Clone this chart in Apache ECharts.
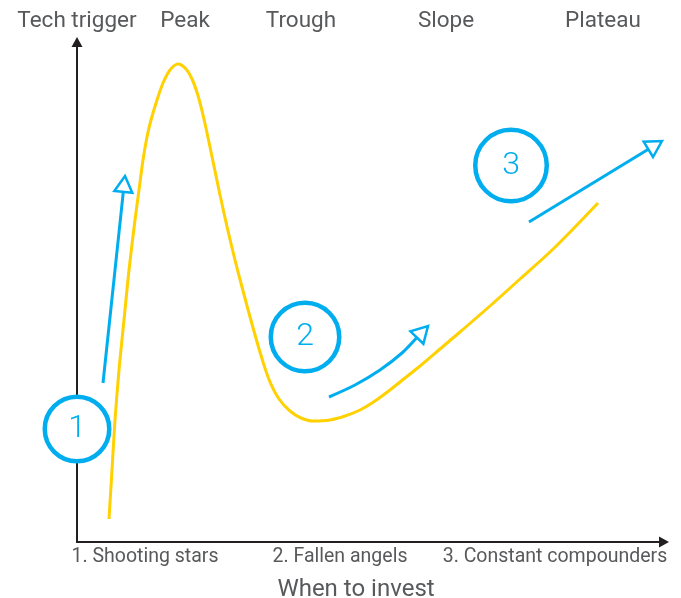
<!DOCTYPE html>
<html>
<head>
<meta charset="utf-8">
<script src="https://cdn.jsdelivr.net/npm/echarts@6/dist/echarts.min.js"></script>
<style>
html,body{margin:0;padding:0;background:#fff;}
#chart{width:681px;height:598px;}
</style>
</head>
<body>
<div id="chart"></div>
<script>
// Hype-cycle curve (x: time, y: expectations)
const curveX = [32,35,38,42,47,52,58,62,66,70,74,80,86,93,101,109,115,120.5,124.8,129.4,135.7,142.6,150.1,158,166.6,175.8,185.4,193,202,213,224,236,253,268,283,298,313,328,343,363,383,413,443,473,498,521];
const curveY = [23,72,122,172,222,272,322,352,382,405,422,442,459,472,478,473,463,448,432,412,382,349,315,282,249,215,182,160,143,131,124,121,122,126,132,141,152,164,176,193,210,236,263,290,315,339];

// Blue "when to invest" arrows
const arrow1X = [26, 48];
const arrow1Y = [159, 366];
const arrow2X = [252, 278, 303, 325, 351];
const arrow2Y = [145, 157, 172, 189, 216];
const arrow3X = [452, 585];
const arrow3Y = [320, 401];

// Numbered circles
const circleX = [0, 228, 434];
const circleY = [113, 205, 376.5];
const circleLabels = ['1', '2', '3'];

// Axis texts
const bottomLabels = ['1. Shooting stars', '2. Fallen angels', '3. Constant compounders'];
const bottomLabelX = [68, 263, 478];
const topLabels = ['Tech trigger', 'Peak', 'Trough', 'Slope', 'Plateau'];
const topLabelX = [0, 108, 224, 369, 526];
const xTitle = 'When to invest';

const BLUE = '#00AEEF', YELLOW = '#FFD100', GREY = '#58595B', BLACK = '#231F20';
const FONT = 'Roboto';

const arrows = [
  {x: arrow1X, y: arrow1Y, smooth: 0},
  {x: arrow2X, y: arrow2Y, smooth: 0.3},
  {x: arrow3X, y: arrow3Y, smooth: 0}
];

const chart = echarts.init(document.getElementById('chart'), null, {renderer: 'canvas'});
chart.setOption({
  backgroundColor: '#fff',
  animation: false,
  title: {
    text: xTitle, left: 351, top: 573, textAlign: 'center',
    textStyle: {color: GREY, fontSize: 24, fontWeight: 'normal', fontFamily: FONT}
  },
  grid: {left: 77, right: 17, top: 42, bottom: 56},
  xAxis: [{
    type: 'value', min: 0, max: 587, position: 'bottom',
    axisLine: {show: true, onZero: false, symbol: ['none', 'triangle'], symbolSize: [11, 10],
      lineStyle: {color: BLACK, width: 2}},
    axisTick: {show: false}, splitLine: {show: false},
    axisLabel: {
      customValues: bottomLabelX, margin: 5,
      formatter: v => bottomLabels[bottomLabelX.indexOf(v)] || '',
      color: GREY, fontSize: 19.5, fontFamily: FONT
    }
  }, {
    type: 'value', min: 0, max: 587, position: 'top',
    axisLine: {show: false}, axisTick: {show: false}, splitLine: {show: false},
    axisLabel: {
      customValues: topLabelX, margin: 9,
      formatter: v => topLabels[topLabelX.indexOf(v)] || '',
      color: GREY, fontSize: 22.5, fontFamily: FONT
    }
  }],
  yAxis: {
    type: 'value', min: 0, max: 500,
    axisLine: {show: true, onZero: false, symbol: ['none', 'triangle'], symbolSize: [11, 10],
      lineStyle: {color: BLACK, width: 2}},
    axisTick: {show: false}, splitLine: {show: false}, axisLabel: {show: false}
  },
  series: [{
    type: 'line', xAxisIndex: 0, clip: false,
    data: curveX.map((x, i) => [x, curveY[i]]),
    smooth: 0.3, symbol: 'none',
    lineStyle: {color: YELLOW, width: 3}, z: 3
  }, {
    type: 'custom', xAxisIndex: 0, clip: false, z: 4,
    data: arrows.map((a, i) => [i]),
    renderItem: function (params, api) {
      const a = arrows[params.dataIndex];
      const pts = a.x.map((x, i) => api.coord([x, a.y[i]]));
      const tip = pts[pts.length - 1], prev = pts[pts.length - 2];
      let dx = tip[0] - prev[0], dy = tip[1] - prev[1];
      const len = Math.sqrt(dx * dx + dy * dy); dx /= len; dy /= len;
      const L = 16, W = 9;
      const base = [tip[0] - dx * L, tip[1] - dy * L];
      const c1 = [base[0] - dy * W, base[1] + dx * W];
      const c2 = [base[0] + dy * W, base[1] - dx * W];
      const shaft = pts.slice(0, -1).concat([base]);
      return {
        type: 'group',
        children: [{
          type: 'polyline',
          shape: {points: shaft, smooth: a.smooth},
          style: {stroke: BLUE, lineWidth: 3, fill: null}
        }, {
          type: 'polygon',
          shape: {points: [tip, c1, c2]},
          style: {stroke: BLUE, lineWidth: 2.5, fill: '#fff', lineJoin: 'miter'}
        }]
      };
    }
  }, {
    type: 'scatter', xAxisIndex: 0, clip: false, z: 5,
    data: circleX.map((x, i) => ({
      value: [x, circleY[i]],
      symbolSize: [64.5, 68.5, 71.5][i],
      label: {formatter: circleLabels[i]}
    })),
    symbol: 'circle',
    itemStyle: {color: '#fff', borderColor: BLUE, borderWidth: 4.5, opacity: 1},
    label: {show: true, position: 'inside', color: BLUE, fontSize: 32, fontFamily: FONT, fontWeight: 300},
    emphasis: {disabled: true}
  }]
});
</script>
</body>
</html>
